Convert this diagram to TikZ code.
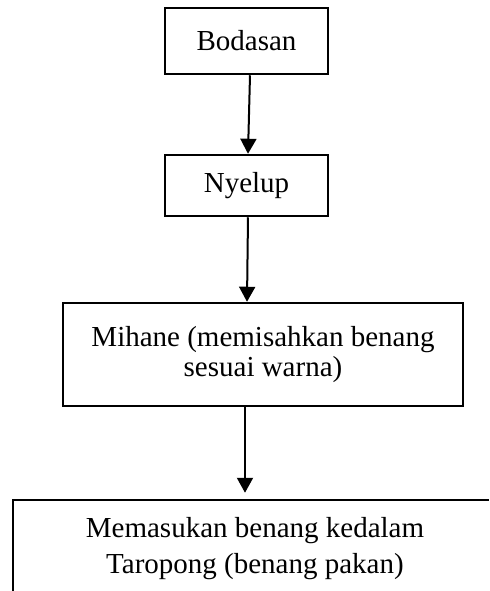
\documentclass[tikz,border=0pt]{standalone}
\usepackage{fontspec}
\setmainfont{Liberation Serif}
\usetikzlibrary{arrows.meta}
\begin{document}
\begin{tikzpicture}[x=0.5pt,y=-0.5pt,
  box/.style={draw=black,line width=1.25pt,rectangle,inner sep=0pt,align=center,
    font=\fontsize{14.5pt}{15pt}\selectfont},
  arr/.style={line width=1pt,-{Triangle[length=7.5pt,width=8pt]}}]
\useasboundingbox (0,0) rectangle (489,591);
\clip (0,0) rectangle (489,591);
\node[box,minimum width=163pt*0.5,minimum height=66pt*0.5] (bod) at (246.5,41) {Bodasan};
\node[box,minimum width=163pt*0.5,minimum height=61pt*0.5] (nye) at (246.5,185.5) {Nyelup};
\node[box,minimum width=400pt*0.5,minimum height=103pt*0.5] (mih) at (263,354.5) {Mihane (memisahkan benang\\sesuai warna)};
\node[box,minimum width=484pt*0.5,minimum height=98pt*0.5,font=\fontsize{14.5pt}{18pt}\selectfont] (mem) at (255,549) {Memasukan benang kedalam\\Taropong (benang pakan)};
\draw[arr] ([xshift=1.75pt]bod.south) -- ([xshift=0.75pt]nye.north);
\draw[arr] ([xshift=0.75pt]nye.south) -- ([xshift=-8pt]mih.north);
\draw[arr] ([xshift=-9pt]mih.south) -- ([xshift=-5pt,yshift=3pt]mem.north);
\end{tikzpicture}
\end{document}
